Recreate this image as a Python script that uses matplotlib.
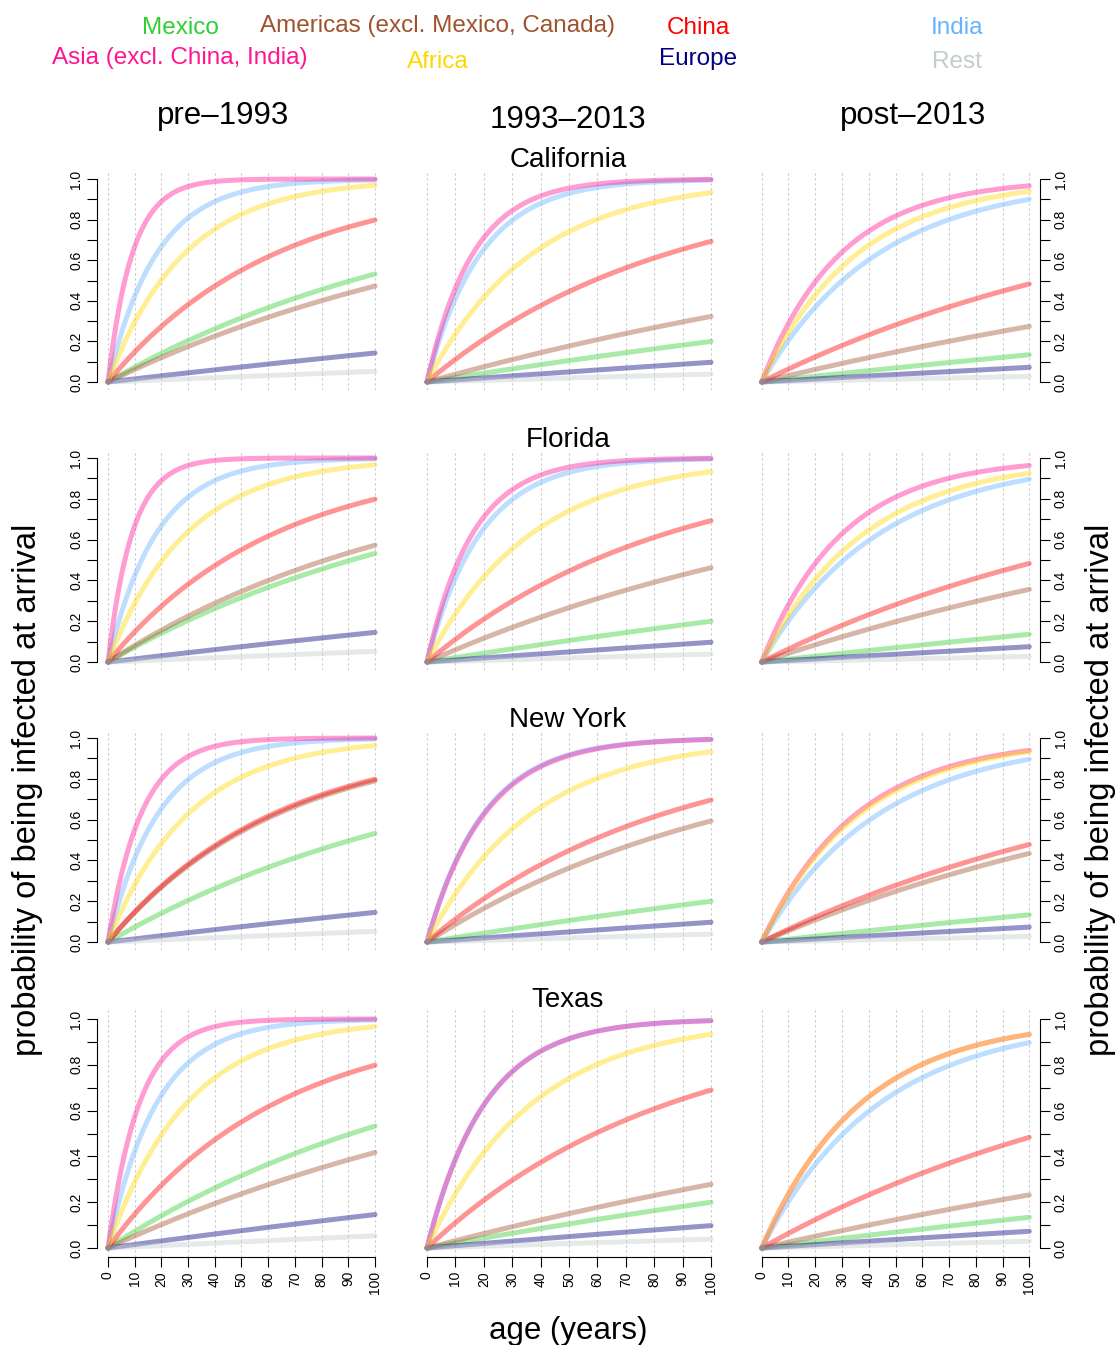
import numpy as np
import matplotlib
matplotlib.use("Agg")
import matplotlib.pyplot as plt

plt.rcParams['font.family'] = ['Liberation Sans', 'DejaVu Sans']

regions = ["Mexico", "Americas (excl. Mexico, Canada)", "China", "India",
           "Asia (excl. China, India)", "Africa", "Europe", "Rest"]
colors = ["#32CD32", "#A0522D", "#FF0000", "#66B2FF",
          "#FF1493", "#FFD700", "#000080", "#C3CCCC"]
periods = ["pre\u20131993", "1993\u20132013", "post\u20132013"]
states = ["California", "Florida", "New York", "Texas"]

# annual risk of infection per origin region (Mexico, Americas, China, India, Asia, Africa, Europe, Rest)
# one row per period: pre-1993, 1993-2013, post-2013
california = [
    [0.0076, 0.0064, 0.016, 0.055, 0.11, 0.035, 0.00154, 0.00054],
    [0.00223, 0.0039, 0.0118, 0.053, 0.062, 0.027, 0.00102, 0.0004],
    [0.00144, 0.0032, 0.0066, 0.023, 0.034, 0.028, 0.00075, 0.00028],
]
florida = [
    [0.0076, 0.0085, 0.016, 0.055, 0.11, 0.034, 0.00157, 0.00054],
    [0.00223, 0.0062, 0.0118, 0.053, 0.062, 0.027, 0.00102, 0.0004],
    [0.00146, 0.0044, 0.0066, 0.0226, 0.033, 0.026, 0.00078, 0.00028],
]
new_york = [
    [0.0076, 0.0156, 0.016, 0.053, 0.08, 0.033, 0.00157, 0.00054],
    [0.00223, 0.009, 0.0119, 0.05, 0.049, 0.027, 0.00102, 0.0004],
    [0.00143, 0.0057, 0.0065, 0.0226, 0.028, 0.027, 0.00076, 0.00028],
]
texas = [
    [0.0076, 0.0054, 0.016, 0.055, 0.085, 0.034, 0.00158, 0.00055],
    [0.00223, 0.00326, 0.0117, 0.049, 0.049, 0.027, 0.00103, 0.0004],
    [0.00144, 0.00264, 0.0066, 0.0227, 0.027, 0.027, 0.00076, 0.0003],
]
rates = [california, florida, new_york, texas]

W, H = 1119, 1345
fig = plt.figure(figsize=(W / 100, H / 100), dpi=100)

# panel boxes in pixels
cols = [(97.3, 385.7), (415.6, 722.4), (751.0, 1040.0)]
rows = [(170.9, 390.1), (449.8, 670.2), (729.8, 950.2), (1009.8, 1257.2)]
title_y = [160, 440, 720, 1000]

age = np.linspace(0, 100, 301)
tick_fs = 10

for i, state in enumerate(states):
    for j in range(3):
        x0, x1 = cols[j]
        y0, y1 = rows[i]
        ax = fig.add_axes([x0 / W, 1 - y1 / H, (x1 - x0) / W, (y1 - y0) / H])
        ax.set_xlim(-4, 104)
        ax.set_ylim(-0.04, 1.04)
        for g in range(0, 101, 10):
            ax.axvline(g, color="#C8C8C8", lw=0.8, ls=(0, (2, 2.5)), zorder=0)
        for k in range(len(regions)):
            lam = rates[i][j][k]
            ax.plot(age, 1 - np.exp(-lam * age), color=colors[k], alpha=0.42,
                    lw=3.6, solid_capstyle="round")
        for s in ax.spines.values():
            s.set_visible(False)
        ax.tick_params(which="both", length=7, width=0.8, pad=3)
        ax.set_yticks([0, 0.2, 0.4, 0.6, 0.8, 1.0])
        ax.set_yticks([0.1, 0.3, 0.5, 0.7, 0.9], minor=True)
        ax.set_yticklabels(["0.0", "0.2", "0.4", "0.6", "0.8", "1.0"], rotation=90,
                           va="center", fontsize=tick_fs)
        if j == 0:
            ax.spines["left"].set_visible(True)
            ax.spines["left"].set_bounds(0, 1)
            ax.spines["left"].set_linewidth(0.8)
        elif j == 2:
            ax.spines["right"].set_visible(True)
            ax.spines["right"].set_bounds(0, 1)
            ax.spines["right"].set_linewidth(0.8)
            ax.yaxis.tick_right()
        else:
            ax.tick_params(axis="y", which="both", left=False, labelleft=False)
        ax.set_xticks(range(0, 101, 10))
        if i == 3:
            ax.spines["bottom"].set_visible(True)
            ax.spines["bottom"].set_bounds(0, 100)
            ax.spines["bottom"].set_linewidth(0.8)
            ax.set_xticklabels([str(v) for v in range(0, 101, 10)], rotation=90,
                               fontsize=tick_fs)
        else:
            ax.tick_params(axis="x", bottom=False, labelbottom=False)
    fig.text(568 / W, 1 - title_y[i] / H, state, ha="center", va="center", fontsize=20)

# column headers
head_x = [223, 568, 913]
head_y = [116, 120, 116]
for j in range(3):
    fig.text(head_x[j] / W, 1 - head_y[j] / H, periods[j], ha="center", va="center", fontsize=22.5)

# legend as coloured text
leg_x = [180, 438, 698, 957, 180, 438, 698, 957]
leg_y = [28, 26, 28, 28, 58, 62, 59, 62]
for k in range(len(regions)):
    fig.text(leg_x[k] / W, 1 - leg_y[k] / H, regions[k], color=colors[k],
             ha="center", va="center", fontsize=17.5)

ylab = "probability of being infected at arrival"
fig.text(28 / W, 1 - 790 / H, ylab, rotation=90, ha="center", va="center", fontsize=23.5)
fig.text(1101 / W, 1 - 790 / H, ylab, rotation=90, ha="center", va="center", fontsize=23.5)
fig.text(568 / W, 1 - 1331 / H, "age (years)", ha="center", va="center", fontsize=22.5)

fig.savefig("out.png", dpi=100)
